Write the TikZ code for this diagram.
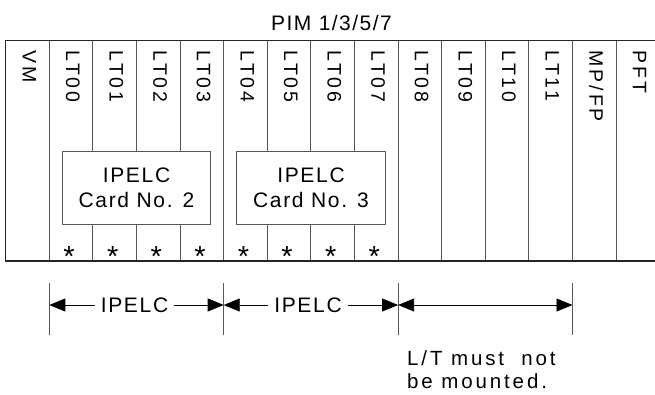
\documentclass[tikz,border=0pt]{standalone}
\usepackage{fontspec}
\setmainfont{Liberation Sans}
\newfontfamily\colf[LetterSpace=15]{Liberation Sans}
\newfontfamily\pimf[LetterSpace=7]{Liberation Sans}
\newfontfamily\boxf[LetterSpace=8]{Liberation Sans}
\newfontfamily\notef[LetterSpace=14]{Liberation Sans}
\usetikzlibrary{arrows.meta}
\begin{document}
\begin{tikzpicture}[x=1pt,y=-1pt,
  frame/.style={line width=1.1pt, draw=black!85},
  sep/.style={line width=0.9pt, draw=black!65},
  cardbox/.style={draw=black!65, line width=0.9pt, fill=white, minimum height=73.3pt, align=center, inner sep=0pt, font=\boxf\fontsize{21}{25}\selectfont},
  collabel/.style={rotate=-90, anchor=base west, inner sep=0pt, font=\colf\fontsize{19.5}{21}\selectfont},
  star/.style={anchor=base, inner sep=0pt, font=\fontsize{29}{30}\selectfont},
  dimtick/.style={line width=0.9pt, draw=black!65},
  dimarrow/.style={line width=0.8pt, -{Triangle[length=16pt,width=13pt]}},
  dimboth/.style={line width=0.8pt, {Triangle[length=16pt,width=13pt]}-{Triangle[length=16pt,width=13pt]}},
  dimlabel/.style={inner sep=6pt, font=\boxf\fontsize{21}{25}\selectfont},
]
\useasboundingbox (0,0) rectangle (655,394);
% title
\node[anchor=base, inner sep=0pt, font=\pimf\fontsize{21}{24}\selectfont] (pim) at (331.5,30) {PIM 1/3/5/7};
% column separators
\foreach \k in {1,...,14} \draw[sep] ({5.7+43.6*\k},40.5) -- ({5.7+43.6*\k},261);
% frame
\draw[frame] (655,40.5) -- (5.3,40.5) -- (5.3,261) -- (655,261);
% column labels
\foreach \t [count=\k from 0] in {VM,LT00,LT01,LT02,LT03,LT04,LT05,LT06,LT07,LT08,LT09,LT10,LT11,{MP/FP},PFT}
  \node[collabel] (lab\k) at ({5.7+43.6*\k+21.8-5},50.5) {\t};
% cards
\node[cardbox, minimum width=148.4pt] (card2) at (136.5,187.65) {IPELC\\Card No. 2};
\node[cardbox, minimum width=149.4pt] (card3) at (311,187.65) {IPELC\\Card No. 3};
% asterisks
\foreach \k in {1,...,8} \node[star] (ast\k) at ({5.7+43.6*\k+21.8-2},266) {*};
% dimension lines
\coordinate (t0) at (49.3,305);
\coordinate (t1) at (223.7,305);
\coordinate (t2) at (398.1,305);
\coordinate (t3) at (572.5,305);
\foreach \c in {t0,t1,t2,t3} \draw[dimtick] ([yshift=22pt]\c) -- ([yshift=-30pt]\c);
\node[dimlabel] (ip1) at (134.5,305) {IPELC};
\node[dimlabel] (ip2) at (308,305) {IPELC};
\draw[dimarrow] (ip1.west |- t0) -- (t0);
\draw[dimarrow] (ip1.east |- t1) -- (t1);
\draw[dimarrow] (ip2.west |- t1) -- (t1);
\draw[dimarrow] (ip2.east |- t2) -- (t2);
\draw[dimboth] (t2) -- (t3);
\node[anchor=north west, inner sep=0pt, align=left, font=\notef\fontsize{20.5}{23}\selectfont] (note) at (407,350.5) {L/T must~ not\\be mounted.};
\end{tikzpicture}
\end{document}
